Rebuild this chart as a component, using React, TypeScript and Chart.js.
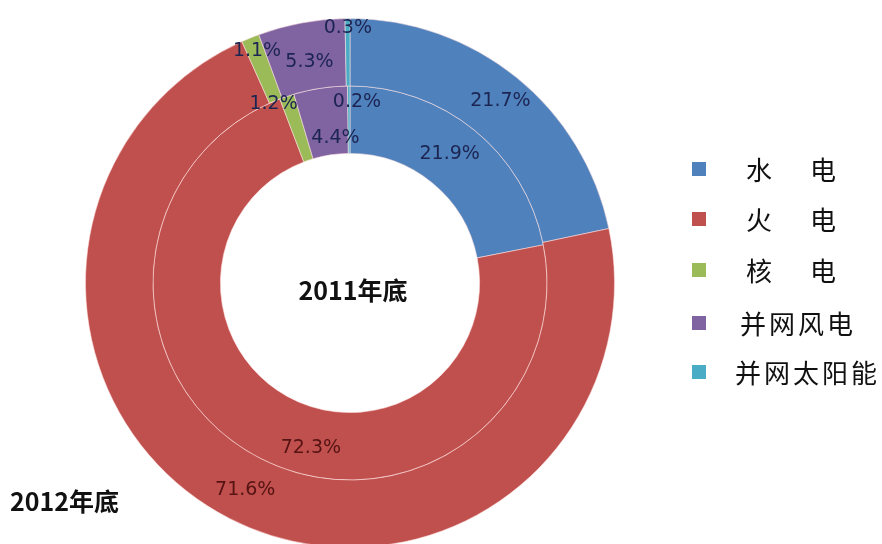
import React, { useEffect, useRef } from 'react';
import { Chart, registerables } from 'chart.js';

Chart.register(...registerables);

const categories = ['水电', '火电', '核电', '并网风电', '并网太阳能'];
const share2012 = [21.7, 71.6, 1.1, 5.3, 0.3];
const share2011 = [21.9, 72.3, 1.2, 4.4, 0.2];
const ringTitles = ['2012年底', '2011年底'];
const colors = ['#4f81bd', '#c0504d', '#9bbb59', '#8064a2', '#4bacc6'];

// label nudges (px) from each arc's centroid, per ring
const nudges: number[][][] = [
  [[5, -3], [0, 1], [-6, -18], [2, 6], [0, -24]],
  [[-4, -3], [40, 22], [-24, -24], [10, 17], [8, -18]],
];

const labelPlugin = {
  id: 'sliceLabels',
  afterDatasetsDraw(chart: any) {
    const ctx = chart.ctx;
    ctx.save();
    ctx.font = '19px "DejaVu Sans", sans-serif';
    ctx.textAlign = 'center';
    ctx.textBaseline = 'middle';
    chart.data.datasets.forEach((ds: any, di: number) => {
      const meta = chart.getDatasetMeta(di);
      meta.data.forEach((arc: any, i: number) => {
        const p = arc.getProps(['x', 'y', 'startAngle', 'endAngle', 'innerRadius', 'outerRadius'], true);
        const mid = (p.startAngle + p.endAngle) / 2;
        const r = (p.innerRadius + p.outerRadius) / 2;
        const n = nudges[di][i];
        const x = p.x + Math.cos(mid) * r + n[0];
        const y = p.y + Math.sin(mid) * r + n[1];
        ctx.fillStyle = i === 1 ? '#561313' : '#1c2552';
        ctx.fillText(ds.data[i].toFixed(1) + '%', x, y);
      });
    });
    // center title for inner ring
    const meta0 = chart.getDatasetMeta(0);
    if (meta0.data.length) {
      const c = meta0.data[0].getProps(['x', 'y'], true);
      ctx.font = 'bold 25px "Noto Sans CJK SC", sans-serif';
      ctx.fillStyle = '#111';
      ctx.fillText(ringTitles[1], c.x + 3, c.y + 7);
    }
    ctx.restore();
  },
};

export default function App() {
  const ref = useRef<HTMLCanvasElement | null>(null);
  useEffect(() => {
    if (!ref.current) return;
    const border = 'rgba(255,225,225,0.55)';
    const chart = new Chart(ref.current, {
      type: 'doughnut',
      data: {
        labels: categories,
        datasets: [
          { label: ringTitles[0], data: share2012, backgroundColor: colors, borderColor: border, borderWidth: 1 },
          { label: ringTitles[1], data: share2011, backgroundColor: colors, borderColor: border, borderWidth: 1 },
        ],
      },
      options: {
        animation: false,
        responsive: true,
        maintainAspectRatio: false,
        cutout: '49%',
        layout: { padding: { left: 85, top: 18, right: 267, bottom: 12 } },
        plugins: { legend: { display: false }, tooltip: { enabled: false } },
      },
      plugins: [labelPlugin],
    });
    return () => chart.destroy();
  }, []);

  const legendTop = [169, 219, 270, 323, 372];
  return (
    <div style={{ position: 'absolute', left: 0, top: 0, width: 882, height: 544, overflow: 'hidden', background: '#fff' }}>
      <div style={{ position: 'absolute', left: 0, top: 0, width: 882, height: 560 }}>
        <canvas ref={ref} />
      </div>
      {categories.map((c, i) => {
        const two = c.length === 2;
        const pad = two ? 11 : c.length === 4 ? 5 : 0;
        return (
          <div key={c} style={{ position: 'absolute', left: 692, top: legendTop[i] - 18, height: 36, display: 'flex', alignItems: 'center' }}>
            <div style={{ width: 14, height: 14, background: colors[i] }} />
            <div
              style={{
                marginLeft: 29 + pad,
                font: '26px "Noto Sans CJK SC", sans-serif',
                letterSpacing: two ? 38 : 3,
                color: '#111',
                whiteSpace: 'nowrap',
                lineHeight: '36px',
              }}
            >
              {c}
            </div>
          </div>
        );
      })}
      <div style={{ position: 'absolute', left: 10, top: 484, font: 'bold 25px "Noto Sans CJK SC", sans-serif', color: '#111', lineHeight: '32px', whiteSpace: 'nowrap' }}>
        {ringTitles[0]}
      </div>
    </div>
  );
}
